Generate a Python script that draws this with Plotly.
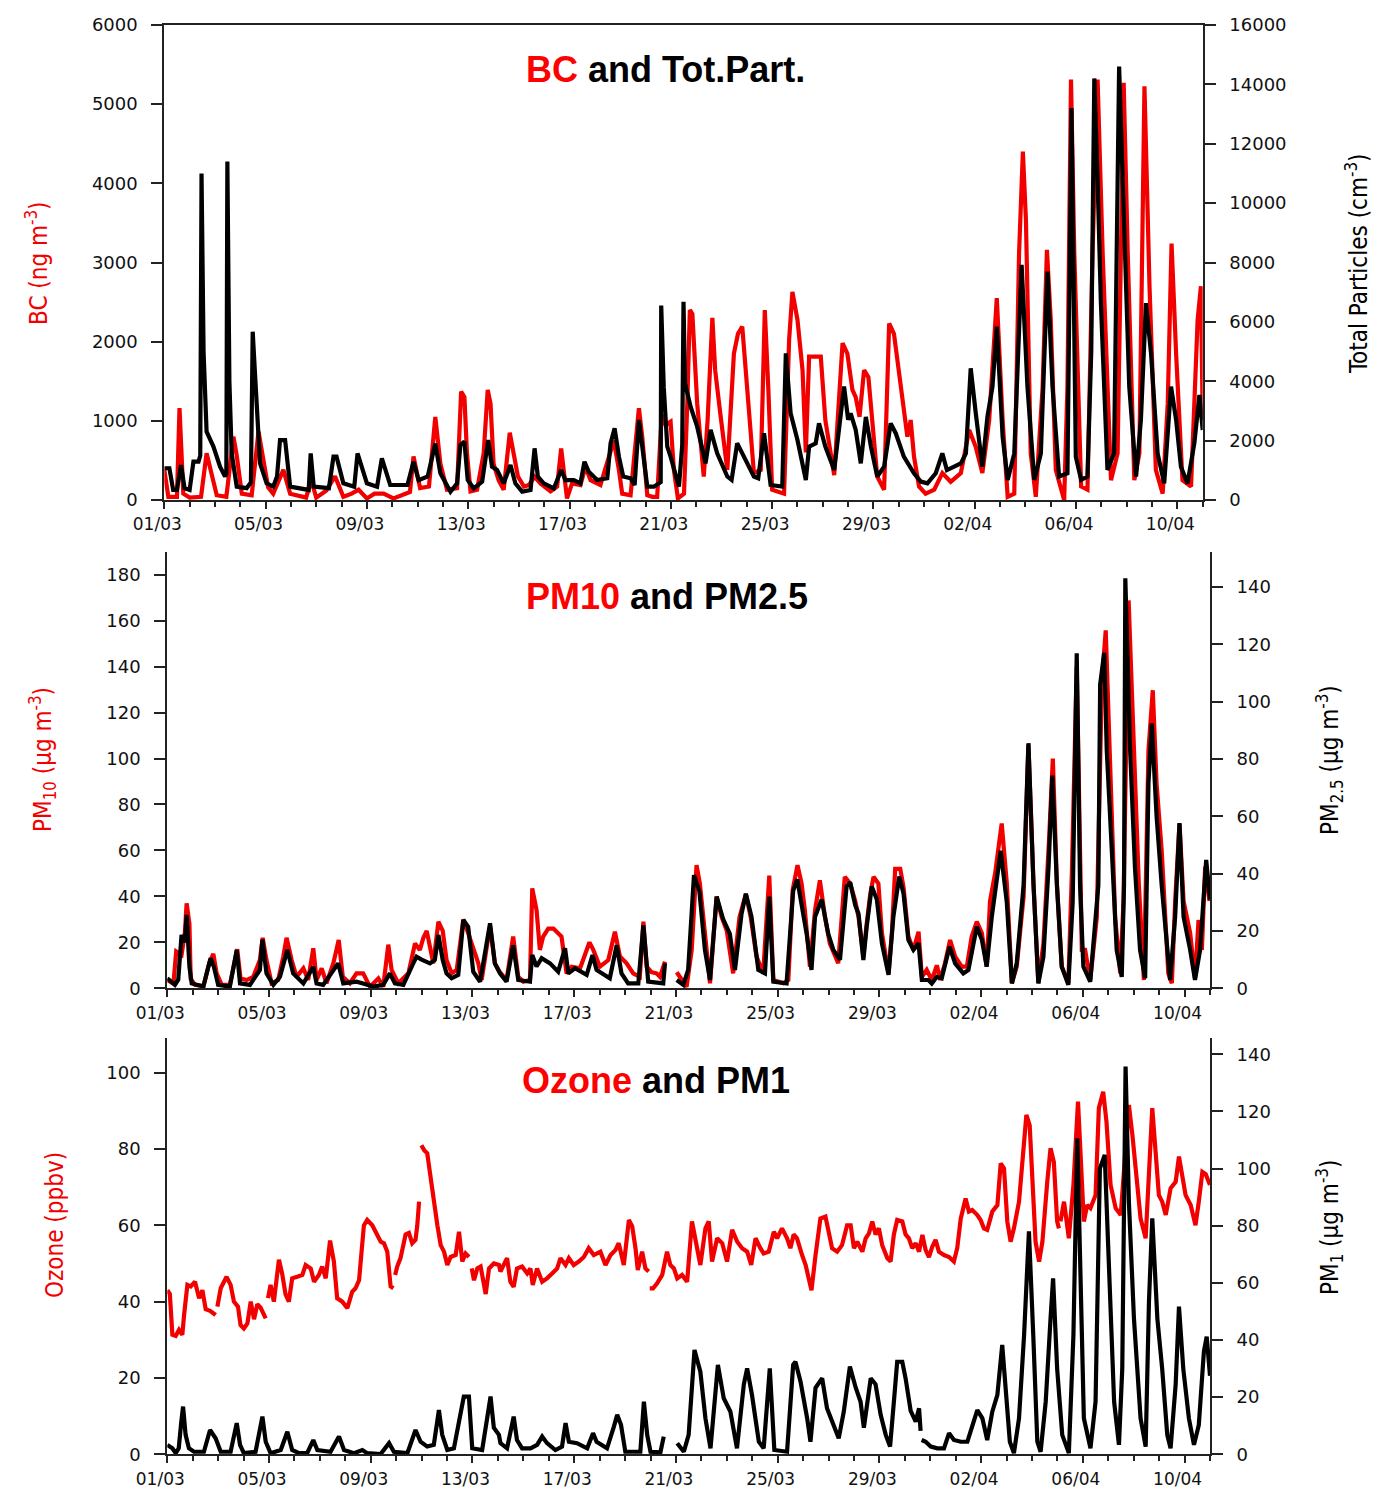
import pandas as pd
import plotly.graph_objects as go

START = pd.Timestamp("2009-03-01")
END = START + pd.Timedelta(days=41)

# Each series: (days since 01/03 00:00, value); None marks a gap in the record
bc_ng = [
    (0, 380), (0.16, 40), (0.5, 40), (0.6, 1160), (0.75, 80), (1.0, 30), (1.45, 40), (1.67, 590),
    (2.07, 60), (2.45, 40), (2.73, 800), (2.86, 560), (3.06, 80), (3.45, 60), (3.72, 865), (3.9, 500),
    (4.1, 160), (4.3, 80), (4.7, 380), (4.97, 80), (5.6, 30), (5.8, 250), (6.0, 30), (6.4, 120),
    (6.74, 300), (7.07, 40), (7.4, 80), (7.67, 130), (8.0, 20), (8.3, 80), (8.66, 80), (9.05, 20),
    (9.7, 100), (9.84, 550), (10.1, 150), (10.45, 170), (10.7, 1050), (10.9, 460), (11.16, 130),
    (11.56, 150), (11.72, 1370), (11.85, 1300), (11.95, 590), (12.09, 110), (12.35, 130), (12.61, 590),
    (12.77, 1390), (12.88, 1220), (13.0, 460), (13.2, 250), (13.4, 130), (13.64, 850), (13.8, 590),
    (13.96, 300), (14.2, 170), (14.4, 190), (14.62, 295), (14.85, 210), (15.25, 110), (15.51, 170),
    (15.67, 650), (15.8, 250), (15.9, 20), (16.1, 210), (16.43, 190), (16.63, 420), (16.83, 250),
    (17.22, 190), (17.62, 590), (17.75, 750), (17.95, 380), (18.08, 80), (18.41, 60), (18.74, 1160),
    (18.87, 800), (19.07, 60), (19.27, 40), (19.46, 40), (19.64, 1075), (19.79, 950), (19.99, 990),
    (20.12, 380), (20.28, 20), (20.52, 80), (20.65, 1220), (20.75, 2400), (20.85, 2350), (21.04, 1220),
    (21.3, 295), (21.45, 1000), (21.64, 2300), (21.75, 1640), (21.95, 1100), (22.23, 380), (22.49, 1850),
    (22.65, 2100), (22.82, 2190), (23.02, 1430), (23.28, 340), (23.55, 380), (23.71, 2400), (23.85, 1400),
    (24.0, 130), (24.47, 80), (24.67, 2020), (24.8, 2630), (24.9, 2450), (25.0, 2275), (25.2, 1640),
    (25.33, 600), (25.46, 1810), (25.72, 1810), (25.92, 1810), (26.1, 1010), (26.45, 315), (26.78, 1980),
    (26.97, 1850), (27.17, 1390), (27.3, 1300), (27.45, 1050), (27.63, 1640), (27.8, 1550), (27.96, 1010),
    (28.15, 295), (28.42, 130), (28.62, 2230), (28.81, 2100), (29.08, 1430), (29.34, 800), (29.47, 1010),
    (29.6, 550), (29.8, 170), (30.06, 80), (30.4, 130), (30.72, 340), (31.05, 230), (31.45, 340),
    (31.78, 885), (32.04, 670), (32.3, 340), (32.57, 1010), (32.87, 2550), (33.1, 1010), (33.3, 40),
    (33.56, 80), (33.75, 3120), (33.9, 4400), (34.02, 3540), (34.21, 590), (34.41, 40), (34.68, 1430),
    (34.85, 3160), (35.0, 2280), (35.2, 380), (35.53, 0), (35.66, 1430), (35.8, 5310), (35.93, 3120),
    (36.2, 170), (36.45, 130), (36.65, 3120), (36.85, 5310), (37.05, 3120), (37.38, 250), (37.64, 590),
    (37.88, 5270), (38.04, 3120), (38.3, 250), (38.5, 590), (38.7, 5225), (38.9, 2700), (39.15, 380),
    (39.42, 80), (39.62, 1220), (39.77, 3240), (39.95, 1850), (40.2, 250), (40.54, 170), (40.8, 2275),
    (40.93, 2700), (41.0, 1010),
]

tot_part = [
    (0, 1070), (0.2, 1070), (0.35, 340), (0.5, 340), (0.66, 1180), (0.8, 400), (1.0, 340), (1.15, 1290),
    (1.35, 1290), (1.42, 1500), (1.47, 11000), (1.55, 5000), (1.67, 2300), (1.94, 1800), (2.2, 1120),
    (2.4, 790), (2.45, 900), (2.49, 11400), (2.57, 4000), (2.66, 1570), (2.86, 450), (3.25, 400),
    (3.42, 600), (3.49, 5670), (3.58, 4270), (3.78, 1235), (4.04, 560), (4.3, 450), (4.45, 790),
    (4.57, 2020), (4.77, 2020), (4.97, 450), (5.7, 340), (5.78, 1570), (5.9, 450), (6.5, 400),
    (6.68, 1460), (6.8, 1460), (7.07, 560), (7.5, 450), (7.63, 1570), (8.0, 560), (8.4, 450),
    (8.59, 1400), (8.92, 505), (9.6, 505), (9.84, 1290), (10.04, 670), (10.4, 790), (10.7, 1900),
    (10.9, 900), (11.3, 280), (11.56, 560), (11.69, 1850), (11.85, 1965), (11.98, 670), (12.22, 390),
    (12.55, 620), (12.79, 2020), (12.94, 1120), (13.14, 1010), (13.4, 560), (13.67, 1180), (13.86, 560),
    (14.13, 280), (14.46, 340), (14.62, 1740), (14.75, 790), (14.98, 560), (15.38, 390), (15.67, 1010),
    (15.84, 670), (16.17, 670), (16.43, 560), (16.59, 1290), (16.76, 950), (17.09, 670), (17.49, 730),
    (17.62, 1910), (17.78, 2415), (17.95, 1460), (18.12, 790), (18.41, 730), (18.57, 505), (18.74, 2695),
    (18.91, 1460), (19.07, 450), (19.33, 450), (19.53, 560), (19.6, 600), (19.62, 6550), (19.72, 3800),
    (19.86, 1800), (19.99, 1460), (20.32, 450), (20.45, 1850), (20.5, 6680), (20.56, 3930), (20.78, 3140),
    (21.04, 2470), (21.37, 1235), (21.57, 2360), (21.83, 1570), (22.23, 790), (22.4, 675), (22.62, 1910),
    (22.82, 1570), (23.28, 790), (23.45, 730), (23.68, 2250), (23.94, 505), (24.4, 450), (24.54, 4940),
    (24.73, 2920), (25.0, 2020), (25.33, 675), (25.46, 1800), (25.72, 1910), (25.85, 2580), (26.1, 1800),
    (26.45, 1010), (26.84, 3820), (27.0, 2700), (27.1, 2920), (27.3, 2360), (27.5, 1235), (27.7, 2800),
    (27.9, 1800), (28.15, 790), (28.42, 1120), (28.68, 2580), (28.88, 2250), (29.2, 1460), (29.6, 900),
    (29.87, 620), (30.13, 560), (30.46, 900), (30.72, 1570), (30.9, 1010), (31.45, 1235), (31.65, 1570),
    (31.84, 4435), (32.04, 2920), (32.3, 1120), (32.5, 2800), (32.7, 3820), (32.87, 5840), (33.1, 2130),
    (33.3, 675), (33.56, 1570), (33.85, 7920), (34.08, 3820), (34.35, 675), (34.61, 1570), (34.87, 7690),
    (35.07, 3820), (35.33, 790), (35.66, 900), (35.82, 13200), (35.99, 1460), (36.2, 675), (36.45, 790),
    (36.6, 5000), (36.72, 14200), (36.85, 10780), (36.98, 6630), (37.24, 1010), (37.5, 1570),
    (37.7, 14600), (37.9, 9430), (38.1, 3820), (38.37, 790), (38.56, 2700), (38.76, 6630), (38.96, 4940),
    (39.22, 1570), (39.48, 560), (39.75, 3820), (39.95, 2700), (40.14, 1120), (40.4, 560), (40.67, 1910),
    (40.87, 3540), (41.0, 2360),
]

pm10 = [
    (0, 3.6), (0.24, 2), (0.35, 16), (0.56, 14.5), (0.69, 24), (0.76, 37), (0.87, 28), (0.92, 4),
    (1.09, 1.5), (1.42, 1), (1.65, 11), (1.81, 15), (1.94, 6.5), (2.14, 1.5), (2.46, 1.5), (2.66, 11),
    (2.75, 17), (2.88, 4.3), (3.12, 3.6), (3.38, 5), (3.64, 12.3), (3.75, 22), (3.9, 12.3), (4.1, 2.2),
    (4.36, 3.6), (4.56, 13.8), (4.69, 22), (4.89, 12.3), (5.08, 5), (5.35, 8.7), (5.54, 3.6), (5.74, 17.4),
    (5.87, 3.6), (6.07, 8.7), (6.26, 2.2), (6.53, 10.9), (6.74, 21), (6.9, 5), (7.18, 2.2), (7.44, 6.5),
    (7.7, 6.5), (7.97, 0.7), (8.3, 4.3), (8.49, 0.7), (8.69, 19), (8.82, 8), (9.08, 2.2), (9.48, 6.5),
    (9.74, 19.5), (9.93, 16.7), (10.07, 22), (10.2, 25), (10.33, 16.7), (10.46, 10.9), (10.66, 29),
    (10.83, 25), (10.98, 12.3), (11.18, 6.5), (11.38, 8), (11.64, 30), (11.83, 24), (12.03, 17),
    (12.23, 10.9), (12.36, 3.6), (12.69, 27), (12.88, 10.9), (13.08, 7), (13.34, 3.6), (13.6, 22.5),
    (13.8, 5), (14.0, 2.9), (14.26, 3.6), (14.35, 43.5), (14.52, 34), (14.65, 16.7), (14.78, 22.5),
    (14.98, 26), (15.18, 26), (15.37, 23.9), (15.5, 22.5), (15.7, 6.5), (15.9, 9.4), (16.23, 8.7),
    (16.6, 20), (16.75, 16.7), (17.01, 9.4), (17.34, 12.3), (17.6, 24.6), (17.8, 13.8), (18.06, 10.9),
    (18.32, 6.5), (18.58, 5), (18.72, 29), (18.85, 9.4), (19.04, 7), (19.24, 6.5), (19.37, 5),
    (19.57, 11.6), (19.6, None), (20.03, 7), (20.22, 3.6), (20.42, 0.7), (20.62, 16.7), (20.81, 53.6),
    (20.94, 45.7), (21.14, 22.5), (21.34, 2.2), (21.6, 39.9), (21.8, 31), (22.0, 25), (22.25, 6.5),
    (22.5, 31), (22.75, 41), (22.94, 31), (23.17, 13.8), (23.43, 6.5), (23.67, 49), (23.83, 3.6),
    (24.22, 2.2), (24.42, 3.6), (24.59, 42.8), (24.78, 53.6), (24.94, 45.7), (25.07, 34), (25.27, 9.4),
    (25.47, 34), (25.66, 47), (25.86, 31), (26.05, 19.5), (26.38, 10.9), (26.64, 48.5), (26.85, 45.6),
    (27.05, 38), (27.18, 31), (27.37, 13.8), (27.5, 28), (27.64, 41), (27.77, 48.5), (27.96, 45.6),
    (28.1, 24), (28.36, 6.5), (28.49, 24), (28.62, 52), (28.82, 52), (28.95, 44), (29.14, 22.5),
    (29.34, 16.7), (29.54, 24.6), (29.67, 5), (29.86, 8), (30.06, 3.6), (30.26, 10), (30.39, 3.6),
    (30.58, 10.9), (30.78, 21), (30.98, 13.8), (31.24, 9.4), (31.44, 9.4), (31.63, 22.5), (31.83, 29),
    (32.03, 24), (32.22, 9.4), (32.35, 38), (32.55, 50), (32.81, 71.7), (33.01, 45.7), (33.21, 2.2),
    (33.4, 9.4), (33.67, 39.9), (33.86, 106), (34.06, 45.7), (34.25, 2.2), (34.45, 19.5), (34.67, 64.5),
    (34.82, 100), (34.98, 45.7), (35.17, 9.4), (35.43, 2.2), (35.57, 51), (35.76, 140), (35.96, 16.7),
    (36.09, 16.7), (36.29, 3.6), (36.55, 31), (36.75, 134), (36.9, 155.8), (37.07, 96), (37.27, 31),
    (37.47, 6.5), (37.6, 38), (37.8, 168.8), (38.0, 103.6), (38.2, 45.7), (38.4, 3.6), (38.58, 103.6),
    (38.75, 129.7), (38.9, 89), (39.1, 60), (39.36, 6.5), (39.5, 2.2), (39.63, 38), (39.8, 71.7),
    (39.96, 38), (40.22, 24), (40.41, 4.3), (40.55, 29.7), (40.68, 16.7), (40.81, 53), (40.98, 38),
]

pm25 = [
    (0, 3.5), (0.3, 1.2), (0.43, 3), (0.56, 18.6), (0.69, 16), (0.76, 25.6), (0.87, 7.5), (0.96, 1.7),
    (1.42, 0.6), (1.7, 10.5), (1.83, 7.6), (2.0, 1.2), (2.46, 0.6), (2.73, 13.4), (2.86, 1.7), (3.25, 1.2),
    (3.64, 6.4), (3.74, 17), (3.9, 5.2), (4.17, 1.2), (4.43, 4), (4.72, 13.4), (4.95, 5.2), (5.35, 1.7),
    (5.74, 7.5), (5.87, 1.7), (6.13, 1.2), (6.72, 8.7), (6.92, 1.7), (7.44, 2.3), (7.7, 1.7), (8.1, 0.6),
    (8.49, 1.2), (8.75, 5.2), (8.95, 1.7), (9.28, 1.2), (9.67, 8.7), (9.8, 11), (10.0, 10), (10.33, 8.7),
    (10.52, 9.9), (10.66, 18.6), (10.83, 9.9), (10.98, 5.2), (11.18, 3.5), (11.44, 4.7), (11.64, 23.8),
    (11.83, 21.5), (12.03, 5.8), (12.3, 2.3), (12.69, 22.7), (12.88, 8.7), (13.08, 5.2), (13.34, 2.3),
    (13.6, 15), (13.8, 2.9), (14.26, 2.3), (14.35, 11.6), (14.52, 7.6), (14.72, 10.5), (15.05, 8.7),
    (15.37, 5.8), (15.64, 14), (15.77, 5.2), (16.03, 7), (16.49, 4.7), (16.72, 11.6), (16.88, 6.4),
    (17.4, 3.5), (17.67, 15), (17.86, 5.2), (18.12, 1.7), (18.52, 1.7), (18.72, 22), (18.91, 2.3),
    (19.37, 1.7), (19.5, 1.7), (19.57, 8.7), (19.6, None), (20.03, 2.9), (20.29, 1.2), (20.48, 6.4),
    (20.71, 39.5), (20.92, 34), (21.14, 13.4), (21.34, 2.9), (21.6, 32), (21.86, 24), (22.12, 19),
    (22.32, 6.4), (22.58, 26), (22.75, 33), (22.97, 25), (23.24, 6.4), (23.5, 5.2), (23.67, 32),
    (23.83, 2.3), (24.35, 1.7), (24.61, 34), (24.77, 38), (24.94, 29), (25.14, 19), (25.33, 6.4),
    (25.47, 25), (25.73, 31), (25.99, 19), (26.19, 13.4), (26.45, 9.9), (26.71, 35.5), (26.85, 37),
    (27.05, 29), (27.18, 26), (27.37, 9.9), (27.5, 21.5), (27.7, 35.5), (27.9, 31), (28.1, 15.7),
    (28.36, 4.7), (28.55, 25), (28.78, 39), (28.95, 33), (29.14, 16.9), (29.34, 13.4), (29.54, 15.7),
    (29.67, 2.9), (29.93, 2.9), (30.06, 1.7), (30.26, 4), (30.45, 3.5), (30.76, 14.5), (30.98, 8.7),
    (31.3, 5.2), (31.5, 6.4), (31.83, 21.5), (32.03, 16.9), (32.22, 7.6), (32.42, 25), (32.77, 48),
    (33.01, 30), (33.21, 1.7), (33.4, 8.7), (33.67, 36), (33.86, 85.5), (34.06, 36), (34.25, 1.7),
    (34.45, 11), (34.65, 42), (34.8, 74.2), (34.98, 36), (35.17, 7.6), (35.43, 1.2), (35.6, 30),
    (35.76, 116.9), (35.89, 36), (36.02, 7.6), (36.29, 2.3), (36.61, 36), (36.68, 106), (36.84, 117),
    (36.94, 83), (37.14, 48), (37.33, 13.4), (37.53, 4), (37.62, 36), (37.67, 143), (37.86, 83),
    (38.05, 42), (38.25, 13.4), (38.45, 3.5), (38.58, 71.5), (38.71, 92.4), (38.9, 60), (39.1, 36),
    (39.43, 2.9), (39.63, 25), (39.8, 57.6), (39.96, 25), (40.22, 13.4), (40.41, 2.9), (40.61, 13.4),
    (40.85, 44.8), (41.0, 31),
]

ozone = [
    (0, 43), (0.1, 42), (0.2, 31.3), (0.33, 31), (0.46, 32.6), (0.59, 31.3), (0.66, 36.5), (0.79, 44.4),
    (0.92, 44), (1.09, 45.2), (1.25, 40.9), (1.38, 43), (1.51, 38), (1.68, 37.6), (1.9, 36.5),
    (1.93, None), (1.97, 38.7), (2.1, 43.5), (2.33, 46.5), (2.49, 44.4), (2.62, 40), (2.78, 38.7),
    (2.88, 33.9), (3.01, 33), (3.15, 34.3), (3.28, 40), (3.41, 35.4), (3.54, 39.3), (3.67, 38.4),
    (3.87, 35.6), (3.91, None), (3.96, 40.9), (4.06, 44.4), (4.19, 40), (4.39, 51), (4.52, 47.2),
    (4.65, 41.9), (4.78, 40), (4.91, 46.1), (5.11, 46.5), (5.31, 47), (5.44, 49.6), (5.64, 48.7),
    (5.77, 45.2), (5.96, 47), (6.09, 49.2), (6.23, 46.1), (6.4, 56), (6.55, 50.5), (6.68, 40.9),
    (6.88, 40), (7.08, 38.3), (7.27, 42.6), (7.4, 43.5), (7.54, 45.6), (7.73, 60), (7.86, 61.4),
    (8.06, 60), (8.26, 57.6), (8.39, 55.7), (8.52, 55.3), (8.65, 53.1), (8.78, 44), (8.89, 43.5),
    (8.93, None), (8.96, 47), (9.04, 49.2), (9.17, 51.4), (9.37, 57.6), (9.5, 58), (9.63, 55.3),
    (9.76, 56.2), (9.83, 60), (9.9, 66.2), (9.95, None), (9.99, 81), (10.1, 79.7), (10.22, 78.9),
    (10.35, 72.3), (10.48, 65.3), (10.62, 60), (10.75, 54.8), (10.88, 53.1), (11.01, 49.6), (11.14, 51.7),
    (11.34, 52.2), (11.47, 58.3), (11.6, 50.5), (11.73, 52.6), (11.86, 51.7), (11.93, None), (11.97, 48.7),
    (12.06, 45.6), (12.19, 48.7), (12.32, 49.2), (12.52, 42), (12.65, 48.7), (12.84, 50), (13.04, 49.6),
    (13.1, 47.9), (13.23, 49.6), (13.36, 51.4), (13.49, 45.2), (13.62, 43.9), (13.75, 48.7), (13.95, 49.2),
    (14.15, 47.4), (14.28, 48.7), (14.37, 44.4), (14.54, 48.7), (14.74, 45.2), (14.93, 46.1), (15.13, 47.4),
    (15.33, 48.7), (15.46, 51.4), (15.66, 49.6), (15.79, 51.4), (15.98, 49.6), (16.18, 50.5), (16.38, 51.7),
    (16.57, 54), (16.77, 52.2), (17.03, 53.1), (17.23, 49.6), (17.43, 52.2), (17.62, 53.5), (17.75, 55.3),
    (17.95, 49.6), (18.15, 61.4), (18.28, 59.7), (18.41, 54), (18.5, 48.3), (18.67, 53.1), (18.8, 48.7),
    (18.93, 47.9), (18.95, None), (18.97, 43.5), (19.1, 43.5), (19.26, 44.8), (19.46, 47), (19.65, 53.1),
    (19.78, 49.6), (19.92, 48.7), (20.05, 46.1), (20.24, 47), (20.44, 45.2), (20.63, 61), (20.77, 55.7),
    (20.96, 49.6), (21.16, 59.2), (21.29, 61), (21.42, 50.5), (21.62, 56.6), (21.82, 55.3), (22.01, 50.5),
    (22.21, 58.8), (22.41, 55.7), (22.6, 54), (22.8, 53.1), (22.96, 49.6), (23.13, 56.6), (23.32, 54),
    (23.45, 52.6), (23.65, 53.1), (23.85, 58.3), (23.98, 56.6), (24.17, 59.2), (24.37, 56.6), (24.5, 54),
    (24.63, 57.6), (24.76, 56.6), (24.96, 52.2), (25.1, 49.6), (25.22, 46.1), (25.33, 43), (25.49, 52.2),
    (25.68, 61.8), (25.88, 62.3), (26.01, 58.3), (26.14, 54), (26.34, 53.1), (26.53, 54.8), (26.73, 60),
    (26.87, 60), (27.0, 54), (27.13, 55.7), (27.33, 53.1), (27.46, 56.6), (27.59, 57.9), (27.72, 61),
    (27.85, 57.6), (27.98, 59.2), (28.11, 54.8), (28.31, 51.4), (28.44, 50.5), (28.57, 57.6), (28.7, 61.4),
    (28.9, 61), (29.03, 57.6), (29.16, 56.6), (29.29, 54), (29.43, 55.3), (29.56, 53.1), (29.69, 57.5),
    (29.82, 53.5), (29.95, 51.7), (30.08, 54.4), (30.21, 56.2), (30.34, 53.1), (30.54, 52.2), (30.74, 51.7),
    (30.93, 50.5), (31.06, 54), (31.2, 61.8), (31.39, 67), (31.52, 63.6), (31.65, 64), (31.85, 62.7),
    (31.98, 61.4), (32.11, 59.2), (32.24, 58.8), (32.44, 63.6), (32.64, 65.3), (32.77, 76.2), (32.9, 74.9),
    (33.03, 61), (33.16, 55.7), (33.29, 59.2), (33.49, 66.2), (33.62, 75.8), (33.78, 88.9), (33.91, 86.2),
    (34.01, 70.6), (34.14, 55.7), (34.28, 50.5), (34.41, 55.7), (34.6, 71.4), (34.73, 80.2), (34.86, 76.6),
    (34.99, 61), (35.06, 59.2), (35.09, None), (35.12, 61), (35.26, 66.2), (35.45, 56.6), (35.63, 70.6),
    (35.81, 92.4), (35.91, 79.3), (36.04, 61), (36.17, 65.3), (36.3, 64.5), (36.5, 67.9), (36.63, 90.7),
    (36.8, 95), (36.93, 87.1), (37.09, 70.6), (37.29, 64.5), (37.49, 62.7), (37.62, 74.9), (37.81, 91.5),
    (37.95, 83.6), (38.08, 74.9), (38.27, 61.8), (38.47, 56.6), (38.6, 74.9), (38.73, 90.7), (38.86, 79.3),
    (38.99, 67.9), (39.12, 66.2), (39.26, 62.7), (39.45, 69.7), (39.65, 71.4), (39.78, 78), (39.91, 72.3),
    (40.04, 67.9), (40.24, 65.3), (40.43, 60), (40.56, 66.2), (40.7, 74), (40.83, 73.4), (41.0, 70.6),
]

pm1 = [
    (0, 3.3), (0.2, 2.1), (0.33, 0.4), (0.45, 2.1), (0.55, 11.4), (0.62, 16.7), (0.72, 6.8), (0.85, 2.1),
    (1.05, 0.9), (1.44, 0.9), (1.68, 8.5), (1.9, 5.6), (2.1, 0.9), (2.49, 0.9), (2.73, 10.9), (2.86, 3.3),
    (3.01, 0.4), (3.47, 0.9), (3.74, 13.2), (3.87, 4.4), (4.06, 0.4), (4.46, 1.5), (4.72, 7.9), (4.91, 1.5),
    (5.18, 0.4), (5.5, 0.4), (5.74, 5), (5.9, 1.5), (6.42, 0.9), (6.75, 6.2), (6.95, 1.5), (7.34, 0.4),
    (7.67, 1.5), (7.86, 0.4), (8.39, 0.1), (8.72, 3.9), (8.91, 0.9), (9.44, 0.4), (9.76, 8.5), (9.96, 4.4),
    (10.22, 2.7), (10.48, 3.3), (10.68, 15.5), (10.81, 6.8), (11.01, 1.5), (11.27, 2.1), (11.47, 11.4),
    (11.66, 20.2), (11.86, 20.2), (11.99, 2.1), (12.38, 1.5), (12.58, 12.6), (12.71, 20.2), (12.84, 9.3),
    (13.04, 6.8), (13.1, 3.9), (13.36, 2.1), (13.62, 13.2), (13.75, 5), (13.95, 2.1), (14.28, 2.1),
    (14.54, 3.3), (14.74, 6.2), (14.93, 3.9), (15.26, 1.5), (15.52, 2.7), (15.66, 10.9), (15.79, 4.4),
    (16.11, 3.9), (16.51, 2.1), (16.74, 7.4), (16.88, 4.4), (17.29, 2.1), (17.56, 9.7), (17.69, 13.8),
    (17.84, 10.3), (18.01, 0.9), (18.6, 0.9), (18.74, 18.4), (18.87, 6.8), (19.0, 0.9), (19.39, 0.7),
    (19.52, 6.2), (19.55, None), (20.05, 3.9), (20.31, 0.9), (20.5, 6.8), (20.73, 36.5), (20.96, 28.9),
    (21.16, 12.6), (21.36, 2.1), (21.65, 31.3), (21.88, 19.6), (22.14, 15.0), (22.4, 2.1), (22.67, 24.5),
    (22.8, 30.1), (22.99, 20.8), (23.26, 4.4), (23.45, 2.1), (23.69, 30.1), (23.87, 1.5), (24.37, 0.9),
    (24.61, 31.3), (24.7, 32.4), (24.9, 25.4), (25.16, 12.6), (25.29, 4.4), (25.49, 23.3), (25.75, 26.6),
    (25.94, 16.1), (26.21, 9.3), (26.4, 5.6), (26.6, 14.9), (26.84, 30.7), (27.07, 23.3), (27.26, 18.4),
    (27.39, 9.3), (27.53, 18.4), (27.66, 26.6), (27.85, 24.5), (28.05, 13.8), (28.25, 6.8), (28.42, 2.7),
    (28.57, 18.4), (28.7, 32.4), (28.9, 32.4), (29.03, 26.6), (29.23, 15.2), (29.43, 11.4), (29.56, 16.1),
    (29.62, 8.2), (29.64, None), (29.66, 5), (29.82, 4.4), (30.02, 2.7), (30.28, 2.1), (30.54, 2.1),
    (30.74, 7.4), (30.93, 5), (31.2, 4.4), (31.46, 4.4), (31.65, 10.3), (31.85, 15.5), (32.05, 12.6),
    (32.24, 5), (32.44, 14.9), (32.64, 20.8), (32.83, 38.3), (32.96, 24.3), (33.13, 4.4), (33.29, 0.4),
    (33.49, 12.6), (33.69, 41.8), (33.88, 78), (34.05, 41.8), (34.21, 4.4), (34.34, 0.9), (34.54, 18.4),
    (34.73, 47.5), (34.83, 61.6), (34.99, 29.9), (35.19, 6.8), (35.45, 0.4), (35.63, 41.8), (35.78, 110.6),
    (35.94, 41.8), (36.04, 12.6), (36.3, 2.1), (36.5, 18.4), (36.67, 100), (36.86, 104.8), (37.03, 65),
    (37.23, 18.4), (37.42, 3.3), (37.55, 30), (37.68, 135.7), (37.81, 88.5), (38.01, 47.5), (38.27, 12.6),
    (38.47, 2.7), (38.6, 53.5), (38.73, 82.6), (38.93, 47.5), (39.12, 29.9), (39.32, 6.8), (39.45, 2.1),
    (39.65, 24.5), (39.78, 51.7), (39.95, 29.9), (40.17, 12.6), (40.37, 3.3), (40.56, 10.3), (40.76, 36),
    (40.87, 41.2), (41.0, 27.5),
]

RED = "#f20000"
BLACK = "#000000"
DAY_MS = 86400000
W, H = 1377, 1488


def split(series):
    xs = [START + pd.Timedelta(days=d) for d, _ in series]
    ys = [v for _, v in series]
    return xs, ys


fig = go.Figure()
for series, color, xa, ya in [
    (bc_ng, RED, "x", "y"), (tot_part, BLACK, "x", "y2"),
    (pm10, RED, "x2", "y3"), (pm25, BLACK, "x2", "y4"),
    (ozone, RED, "x3", "y5"), (pm1, BLACK, "x3", "y6"),
]:
    xs, ys = split(series)
    fig.add_trace(go.Scatter(x=xs, y=ys, mode="lines", xaxis=xa, yaxis=ya,
                             line=dict(color=color, width=4.2), connectgaps=False,
                             showlegend=False, hoverinfo="skip"))

tick_font = dict(family="DejaVu Sans", size=18, color="#111111")
axis_common = dict(showline=True, linecolor="#222222", linewidth=2, showgrid=False,
                   zeroline=False, ticks="outside", tickcolor="#222222", tickwidth=1.5,
                   tickfont=tick_font, automargin=False)


def xaxis(domain, anchor, mirror=False):
    return dict(axis_common, domain=domain, anchor=anchor, type="date",
                range=[START, END], tick0=START, dtick=4 * DAY_MS, tickformat="%d/%m",
                ticklen=7, ticklabelstandoff=1, ticklabelshift=-7, mirror=mirror,
                tickfont=dict(tick_font, size=17),
                minor=dict(dtick=DAY_MS, ticks="outside", ticklen=5, tickcolor="#222222",
                           tickwidth=1.5, showgrid=False))


def yaxis(domain, anchor, rng, dtick, side="left", overlaying=None):
    d = dict(axis_common, domain=domain, anchor=anchor, range=rng, dtick=dtick,
             tick0=0, side=side, ticklen=11, ticklabelstandoff=10, tickformat="d")
    if overlaying:
        d["overlaying"] = overlaying
        d.pop("domain")
    return d


xd1 = [164.3 / W, 1202.7 / W]
xd23 = [167.3 / W, 1210.0 / W]
yd1 = [1 - 500 / H, 1 - 25 / H]
yd2 = [1 - 988.3 / H, 1 - 551.7 / H]
yd3 = [1 - 1454.3 / H, 1 - 1038.3 / H]

fig.update_layout(
    width=W, height=H, template="none",
    margin=dict(l=0, r=0, t=0, b=0),
    paper_bgcolor="white", plot_bgcolor="rgba(0,0,0,0)",
    xaxis=xaxis(xd1, "y", mirror=True),
    xaxis2=xaxis(xd23, "y3"),
    xaxis3=xaxis(xd23, "y5"),
    yaxis=yaxis(yd1, "x", [0, 6000], 1000),
    yaxis2=yaxis(yd1, "x", [0, 16000], 2000, side="right", overlaying="y"),
    yaxis3=yaxis(yd2, "x2", [0, 190], 20),
    yaxis4=yaxis(yd2, "x2", [0, 152.3], 20, side="right", overlaying="y3"),
    yaxis5=yaxis(yd3, "x3", [0, 109], 20),
    yaxis6=yaxis(yd3, "x3", [0, 145.6], 20, side="right", overlaying="y5"),
)

title_font = dict(family="Liberation Sans, Arial, sans-serif", size=36, color=BLACK, weight="bold")
label_font = dict(family="Liberation Sans Narrow, DejaVu Sans Condensed, sans-serif", size=24)

annotations = [
    (665, 70, "<span style='color:#ff0000'>BC</span> and Tot.Part.", title_font, 0),
    (667, 596, "<span style='color:#ff0000'>PM10</span> and PM2.5", title_font, 0),
    (656, 1080, "<span style='color:#ff0000'>Ozone</span> and PM1", title_font, 0),
    (37, 263, "BC (ng m<sup>-3</sup>)", dict(label_font, color=RED), -90),
    (42, 760, "PM<sub>10</sub> (μg m<sup>-3</sup>)", dict(label_font, color=RED), -90),
    (55, 1225, "Ozone (ppbv)", dict(label_font, color=RED), -90),
    (1357, 264, "Total Particles (cm<sup>-3</sup>)", dict(label_font, color=BLACK), -90),
    (1329, 760, "PM<sub>2.5</sub> (μg m<sup>-3</sup>)", dict(label_font, color=BLACK), -90),
    (1329, 1228, "PM<sub>1</sub> (μg m<sup>-3</sup>)", dict(label_font, color=BLACK), -90),
]
for px, py, text, font, angle in annotations:
    fig.add_annotation(x=px / W, y=1 - py / H, xref="paper", yref="paper", text=text,
                       showarrow=False, font=font, textangle=angle,
                       xanchor="center", yanchor="middle")

fig.write_html("out.html")
